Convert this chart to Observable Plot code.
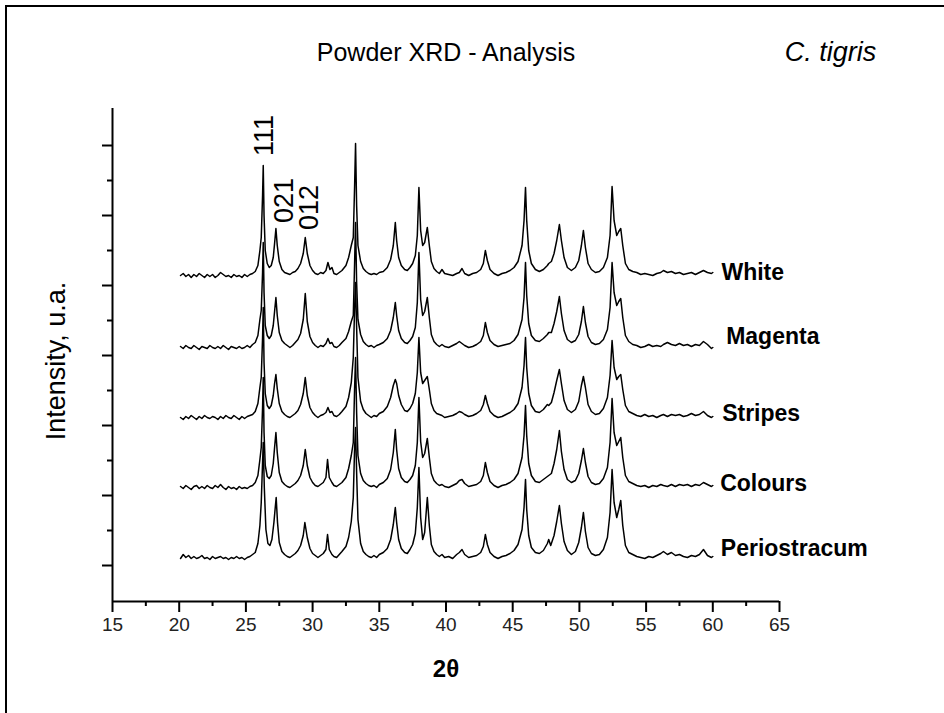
<!DOCTYPE html>
<html><head><meta charset="utf-8">
<script src="https://cdn.jsdelivr.net/npm/d3@7"></script>
<script src="https://cdn.jsdelivr.net/npm/@observablehq/plot@0.6"></script>
<style>
body{margin:0;background:#fff;}
#wrap{position:relative;width:944px;height:713px;overflow:hidden;background:#fff;}
#border{position:absolute;left:5px;top:5px;width:980px;height:760px;border:2px solid #000;box-sizing:border-box;pointer-events:none;}
#chart{position:absolute;left:0;top:0;}
</style></head><body>
<div id="wrap"><div id="chart"></div><div id="border"></div></div>
<script>
// ---- data (2θ, intensity above each pattern's own baseline, arbitrary units) ----
const seriesNames = ["White", "Magenta", "Stripes", "Colours", "Periostracum"];
const seriesOffsets = [290, 218, 148, 78, 8];
const seriesLabelX = [60.65, 61.0, 60.7, 60.55, 60.6];
const seriesLabelY = [293, 229, 152, 82, 17];

const white = [
20.1,0, 20.3,2, 20.5,-1, 20.7,1, 20.9,-2, 21.1,1, 21.3,-1, 21.5,2, 21.7,0, 21.9,-2, 22.1,1, 22.3,-1, 22.5,1, 22.7,-2, 22.9,0, 23.1,3, 23.3,1, 23.5,-1, 23.7,0, 23.9,-2, 24.1,1, 24.3,-1, 24.5,0, 24.7,-2, 24.9,1, 25.1,-1, 25.3,1, 25.5,2,
25.7,4, 25.9,10, 26.05,25, 26.15,38, 26.25,80, 26.3,110, 26.36,60, 26.45,25, 26.6,12, 26.75,8,
26.9,10, 27.05,18, 27.15,32, 27.25,47, 27.35,30, 27.5,14, 27.7,6, 27.9,3, 28.1,2, 28.3,1, 28.5,3, 28.7,4,
28.9,7, 29.1,12, 29.3,22, 29.45,38, 29.6,22, 29.8,10, 30.0,5, 30.2,2, 30.4,1, 30.6,3, 30.8,2, 31.0,5,
31.15,13, 31.3,6, 31.45,8, 31.6,2, 31.8,1, 32.0,3, 32.2,5,
32.5,10, 32.7,18, 32.9,30, 33.05,38, 33.15,90, 33.22,132, 33.3,70, 33.4,30, 33.6,14, 33.8,7, 34.0,4, 34.2,2, 34.4,1, 34.6,2, 34.8,1, 35.0,3, 35.3,4,
35.6,8, 35.85,16, 36.05,30, 36.2,53, 36.3,35, 36.45,18, 36.65,10, 36.9,6, 37.1,5, 37.3,8, 37.5,12, 37.7,20, 37.85,40,
37.97,88, 38.1,45, 38.25,30, 38.4,33, 38.6,48, 38.75,30, 38.9,14, 39.1,7, 39.3,4, 39.5,2, 39.7,6, 39.9,2, 40.2,1, 40.5,0, 40.8,2, 41.0,3, 41.2,7, 41.4,2, 41.7,0, 42.0,2, 42.3,3, 42.6,6, 42.8,12,
42.95,25, 43.1,15, 43.3,6, 43.6,2, 43.9,0, 44.2,2, 44.5,3, 44.8,5, 45.1,8, 45.4,14, 45.7,30, 45.85,55,
45.96,88, 46.05,55, 46.2,25, 46.4,12, 46.7,6, 47.0,4, 47.3,6, 47.6,10, 47.7,12, 47.9,14, 48.1,22, 48.3,35, 48.5,51, 48.65,35, 48.85,18, 49.1,8, 49.4,5, 49.7,8, 49.95,15, 50.15,30,
50.3,45, 50.45,28, 50.65,12, 50.9,6, 51.2,3, 51.5,4, 51.8,8, 52.1,18, 52.3,40,
52.45,89, 52.6,55, 52.8,40, 52.95,44, 53.1,47, 53.25,30, 53.45,12, 53.7,6, 54.0,4, 54.3,3, 54.6,1, 54.9,2, 55.2,1, 55.5,0, 55.8,2, 56.1,3, 56.3,5, 56.6,3, 56.9,4, 57.2,2, 57.5,3, 57.8,1, 58.1,2, 58.4,3, 58.7,1, 59.0,3, 59.3,5, 59.6,3, 59.9,2, 60.0,3
];
const magenta = [
20.1,1, 20.3,-1, 20.5,2, 20.7,0, 20.9,-1, 21.1,2, 21.3,0, 21.5,-2, 21.7,1, 21.9,0, 22.1,-1, 22.3,2, 22.5,0, 22.7,-1, 22.9,1, 23.1,-1, 23.3,2, 23.5,0, 23.7,-2, 23.9,1, 24.1,0, 24.3,-1, 24.5,1, 24.7,-1, 24.9,0, 25.1,2, 25.3,0, 25.5,3,
25.7,5, 25.9,12, 26.05,28, 26.15,37, 26.25,75, 26.3,105, 26.36,55, 26.45,22, 26.6,12, 26.75,9,
26.9,12, 27.05,22, 27.15,36, 27.25,50, 27.35,32, 27.5,15, 27.7,7, 27.9,4, 28.1,2, 28.3,0, 28.5,2, 28.7,5,
28.9,8, 29.1,14, 29.3,28, 29.45,54, 29.6,26, 29.8,11, 30.0,5, 30.2,2, 30.4,0, 30.6,2, 30.8,1, 31.0,4,
31.15,9, 31.3,4, 31.45,5, 31.6,1, 31.8,0, 32.0,2, 32.2,5,
32.5,9, 32.7,16, 32.9,26, 33.05,32, 33.15,85, 33.22,125, 33.3,65, 33.4,28, 33.6,13, 33.8,6, 34.0,3, 34.2,1, 34.4,2, 34.6,0, 34.8,2, 35.0,3, 35.3,5,
35.6,9, 35.85,17, 36.05,30, 36.2,45, 36.3,32, 36.45,17, 36.65,9, 36.9,5, 37.1,4, 37.3,7, 37.5,11, 37.7,20, 37.85,45,
37.97,95, 38.1,48, 38.25,32, 38.4,36, 38.6,50, 38.75,30, 38.9,13, 39.1,6, 39.3,3, 39.5,1, 39.7,3, 39.9,1, 40.2,0, 40.5,2, 40.8,4, 41.0,6, 41.2,4, 41.4,2, 41.7,0, 42.0,1, 42.3,3, 42.6,6, 42.8,12,
42.95,25, 43.1,15, 43.3,7, 43.6,3, 43.9,1, 44.2,2, 44.5,3, 44.8,4, 45.1,7, 45.4,13, 45.7,28, 45.85,50,
45.96,85, 46.05,52, 46.2,24, 46.4,12, 46.7,7, 47.0,6, 47.3,9, 47.6,13, 47.7,15, 47.9,15, 48.1,24, 48.3,36, 48.5,51, 48.65,34, 48.85,17, 49.1,8, 49.4,5, 49.7,7, 49.95,13, 50.15,26,
50.3,41, 50.45,25, 50.65,11, 50.9,5, 51.2,3, 51.5,4, 51.8,8, 52.1,18, 52.3,40,
52.45,85, 52.6,55, 52.8,42, 52.95,46, 53.1,49, 53.25,30, 53.45,12, 53.7,6, 54.0,3, 54.3,2, 54.6,0, 54.9,1, 55.2,3, 55.5,1, 55.8,2, 56.1,1, 56.3,3, 56.6,5, 56.9,3, 57.2,2, 57.5,4, 57.8,2, 58.1,3, 58.4,1, 58.7,3, 59.0,2, 59.3,6, 59.6,3, 59.9,-1, 60.0,0
];
const stripes = [
20.1,0, 20.3,-2, 20.5,1, 20.7,-1, 20.9,2, 21.1,0, 21.3,-2, 21.5,1, 21.7,-1, 21.9,2, 22.1,0, 22.3,-1, 22.5,1, 22.7,0, 22.9,-2, 23.1,1, 23.3,-1, 23.5,2, 23.7,0, 23.9,-1, 24.1,2, 24.3,0, 24.5,-2, 24.7,1, 24.9,-1, 25.1,1, 25.3,2, 25.5,3,
25.7,6, 25.9,14, 26.05,30, 26.15,40, 26.25,80, 26.3,110, 26.36,55, 26.45,24, 26.6,12, 26.75,9,
26.9,12, 27.05,22, 27.15,34, 27.25,43, 27.35,29, 27.5,14, 27.7,6, 27.9,3, 28.1,1, 28.3,0, 28.5,2, 28.7,4,
28.9,7, 29.1,13, 29.3,24, 29.45,40, 29.6,22, 29.8,10, 30.0,5, 30.2,2, 30.4,0, 30.6,2, 30.8,3, 31.0,5,
31.15,10, 31.3,5, 31.45,6, 31.6,2, 31.8,1, 32.0,3, 32.2,6,
32.5,11, 32.7,20, 32.9,35, 33.05,60, 33.15,110, 33.22,135, 33.3,90, 33.4,40, 33.6,16, 33.8,8, 34.0,4, 34.2,2, 34.4,0, 34.6,2, 34.8,1, 35.0,4, 35.3,6,
35.6,11, 35.85,20, 36.05,32, 36.2,38, 36.3,34, 36.45,22, 36.65,13, 36.9,7, 37.1,6, 37.3,9, 37.5,14, 37.7,24, 37.85,45,
37.97,80, 38.1,45, 38.25,34, 38.4,37, 38.6,41, 38.75,28, 38.9,14, 39.1,7, 39.3,4, 39.5,3, 39.7,2, 39.9,0, 40.2,1, 40.5,2, 40.8,4, 41.0,6, 41.2,5, 41.4,3, 41.7,1, 42.0,2, 42.3,4, 42.6,7, 42.8,13,
42.95,22, 43.1,14, 43.3,6, 43.6,2, 43.9,0, 44.2,1, 44.5,3, 44.8,5, 45.1,8, 45.4,14, 45.7,30, 45.85,52,
45.96,80, 46.05,50, 46.2,24, 46.4,12, 46.7,6, 47.0,5, 47.3,8, 47.6,13, 47.7,12, 47.9,15, 48.1,25, 48.3,37, 48.5,48, 48.65,34, 48.85,17, 49.1,8, 49.4,5, 49.7,8, 49.95,16, 50.15,32,
50.3,41, 50.45,30, 50.65,13, 50.9,6, 51.2,3, 51.5,4, 51.8,9, 52.1,20, 52.3,42,
52.45,77, 52.6,50, 52.8,38, 52.95,41, 53.1,43, 53.25,28, 53.45,12, 53.7,6, 54.0,4, 54.3,2, 54.6,1, 54.9,3, 55.2,1, 55.5,2, 55.8,0, 56.1,2, 56.3,3, 56.6,1, 56.9,3, 57.2,2, 57.5,3, 57.8,1, 58.1,2, 58.4,4, 58.7,2, 59.0,3, 59.3,6, 59.6,2, 59.9,0, 60.0,1
];
const colours = [
20.1,1, 20.3,-1, 20.5,2, 20.7,0, 20.9,-2, 21.1,1, 21.3,2, 21.5,-1, 21.7,1, 21.9,-1, 22.1,2, 22.3,0, 22.5,-1, 22.7,2, 22.9,0, 23.1,3, 23.3,0, 23.5,-2, 23.7,1, 23.9,-1, 24.1,0, 24.3,-2, 24.5,1, 24.7,-1, 24.9,0, 25.1,-1, 25.3,1, 25.5,2,
25.7,5, 25.9,12, 26.05,28, 26.15,40, 26.25,80, 26.3,110, 26.36,55, 26.45,22, 26.6,11, 26.75,9,
26.9,12, 27.05,24, 27.15,40, 27.25,55, 27.35,35, 27.5,15, 27.7,6, 27.9,3, 28.1,1, 28.3,0, 28.5,2, 28.7,4,
28.9,7, 29.1,12, 29.3,22, 29.45,38, 29.6,22, 29.8,10, 30.0,5, 30.2,2, 30.4,1, 30.6,3, 30.8,5, 31.0,10,
31.12,28, 31.25,10, 31.45,5, 31.6,2, 31.8,1, 32.0,3, 32.2,5,
32.5,10, 32.7,19, 32.9,32, 33.05,45, 33.15,100, 33.22,130, 33.3,75, 33.4,32, 33.6,14, 33.8,7, 34.0,4, 34.2,2, 34.4,1, 34.6,2, 34.8,0, 35.0,3, 35.3,5,
35.6,9, 35.85,18, 36.05,35, 36.2,58, 36.3,38, 36.45,19, 36.65,10, 36.9,6, 37.1,5, 37.3,8, 37.5,12, 37.7,22, 37.85,45,
37.97,90, 38.1,46, 38.25,30, 38.4,34, 38.6,49, 38.75,30, 38.9,14, 39.1,7, 39.3,4, 39.5,2, 39.7,3, 39.9,1, 40.2,0, 40.5,2, 40.8,4, 41.0,7, 41.2,8, 41.4,4, 41.7,1, 42.0,2, 42.3,3, 42.6,6, 42.8,12,
42.95,25, 43.1,15, 43.3,6, 43.6,2, 43.9,0, 44.2,2, 44.5,3, 44.8,5, 45.1,8, 45.4,14, 45.7,30, 45.85,52,
45.96,82, 46.05,52, 46.2,24, 46.4,12, 46.7,6, 47.0,5, 47.3,8, 47.6,11, 47.7,12, 47.9,14, 48.1,24, 48.3,38, 48.5,57, 48.65,36, 48.85,18, 49.1,8, 49.4,5, 49.7,7, 49.95,14, 50.15,27,
50.3,39, 50.45,25, 50.65,11, 50.9,5, 51.2,3, 51.5,4, 51.8,9, 52.1,20, 52.3,45,
52.45,89, 52.6,55, 52.8,42, 52.95,46, 53.1,50, 53.25,30, 53.45,12, 53.7,6, 54.0,4, 54.3,2, 54.6,1, 54.9,2, 55.2,0, 55.5,2, 55.8,1, 56.1,3, 56.3,2, 56.6,1, 56.9,3, 57.2,1, 57.5,3, 57.8,2, 58.1,3, 58.4,1, 58.7,3, 59.0,2, 59.3,5, 59.6,3, 59.9,1, 60.0,2
];
const periostracum = [
20.1,-1, 20.3,3, 20.5,0, 20.7,2, 20.9,-1, 21.1,1, 21.3,-1, 21.5,0, 21.7,2, 21.9,-1, 22.1,0, 22.3,-2, 22.5,1, 22.7,-1, 22.9,0, 23.1,1, 23.3,-1, 23.5,0, 23.7,-2, 23.9,0, 24.1,-1, 24.3,1, 24.5,-1, 24.7,0, 24.9,-2, 25.1,0, 25.3,1, 25.5,3,
25.7,5, 25.9,14, 26.05,32, 26.15,55, 26.25,95, 26.3,115, 26.38,70, 26.5,28, 26.65,14, 26.8,12,
26.95,18, 27.1,35, 27.2,50, 27.27,60, 27.37,35, 27.5,15, 27.7,6, 27.9,3, 28.1,1, 28.3,0, 28.5,2, 28.7,4,
28.9,7, 29.1,12, 29.3,22, 29.42,35, 29.6,20, 29.8,9, 30.0,4, 30.2,2, 30.4,0, 30.6,2, 30.8,4, 31.0,8,
31.12,23, 31.25,8, 31.45,3, 31.6,1, 31.8,0, 32.0,3, 32.2,6,
32.5,11, 32.7,20, 32.9,36, 33.05,60, 33.15,110, 33.22,130, 33.3,85, 33.4,38, 33.6,14, 33.8,6, 34.0,3, 34.2,1, 34.4,0, 34.6,2, 34.8,0, 35.0,3, 35.3,5,
35.6,9, 35.85,18, 36.05,33, 36.2,50, 36.3,35, 36.45,18, 36.65,9, 36.9,5, 37.1,4, 37.3,8, 37.5,13, 37.7,24, 37.85,50,
37.97,90, 38.1,40, 38.25,18, 38.4,25, 38.6,60, 38.75,32, 38.9,13, 39.1,6, 39.3,3, 39.5,1, 39.7,3, 39.9,0, 40.2,1, 40.5,-1, 40.8,3, 41.0,5, 41.2,8, 41.4,3, 41.7,0, 42.0,1, 42.3,2, 42.6,5, 42.8,11,
42.95,23, 43.1,13, 43.3,5, 43.6,1, 43.9,-1, 44.2,1, 44.5,2, 44.8,4, 45.1,7, 45.4,13, 45.7,28, 45.85,50,
45.96,78, 46.05,48, 46.2,22, 46.4,10, 46.7,5, 47.0,4, 47.3,7, 47.6,14, 47.7,18, 47.85,12, 48.1,22, 48.3,36, 48.5,52, 48.65,34, 48.85,16, 49.1,7, 49.4,3, 49.7,6, 49.95,15, 50.15,30,
50.3,45, 50.45,26, 50.65,10, 50.9,4, 51.2,2, 51.5,3, 51.8,8, 52.1,20, 52.3,45,
52.45,88, 52.6,55, 52.8,40, 52.95,48, 53.1,57, 53.25,32, 53.45,12, 53.7,5, 54.0,3, 54.3,1, 54.6,0, 54.9,-1, 55.2,1, 55.5,0, 55.8,2, 56.1,4, 56.3,6, 56.6,3, 56.9,5, 57.2,2, 57.5,3, 57.8,1, 58.1,0, 58.4,2, 58.7,1, 59.0,3, 59.3,8, 59.6,2, 59.9,0, 60.0,1
];

const peakLabels = ["111", "021", "012"];
const peakLabelX = [26.4, 27.9, 29.78];
const peakLabelY = [430, 365, 358];

const xDomain = [15, 65];
const yDomain = [-36, 457];
const xTicks = [15, 20, 25, 30, 35, 40, 45, 50, 55, 60, 65];
const xMinorTicks = [17.5, 22.5, 27.5, 32.5, 37.5, 42.5, 47.5, 52.5, 57.5, 62.5];
const yTicks = [0, 70, 140, 210, 280, 350, 420];
const yMinorTicks = [35, 105, 175, 245, 315, 385];

const titleText = "Powder XRD - Analysis";
const speciesText = "C. tigris";
const yLabelText = "Intensity, u.a.";
const xLabelText = "2θ";

// ---- build table ----
const seriesData = [white, magenta, stripes, colours, periostracum];
const rows = [];
seriesData.forEach((arr, s) => {
  for (let i = 0; i < arr.length; i += 2) {
    rows.push({series: seriesNames[s], theta: arr[i], intensity: arr[i + 1] + seriesOffsets[s]});
  }
});
const seriesLabelRows = seriesNames.map((n, i) => ({name: n, x: seriesLabelX[i], y: seriesLabelY[i]}));
const peakRows = peakLabels.map((t, i) => ({t, x: peakLabelX[i], y: peakLabelY[i]}));

const font = "'Liberation Sans', Arial, Helvetica, sans-serif";

const chart = Plot.plot({
  width: 944,
  height: 713,
  marginLeft: 112,
  marginRight: 165,
  marginTop: 108,
  marginBottom: 112,
  style: {fontFamily: font, fontSize: "18px", background: "transparent", overflow: "visible"},
  x: {domain: xDomain},
  y: {domain: yDomain},
  marks: [
    Plot.line(rows, {x: "theta", y: "intensity", z: "series", stroke: "#000", strokeWidth: 1.5, strokeLinejoin: "round"}),
    Plot.ruleY([yDomain[0]], {stroke: "#000", strokeWidth: 2}),
    Plot.ruleX([xDomain[0]], {stroke: "#000", strokeWidth: 2}),
    Plot.axisX({ticks: xTicks, tickSize: 11, tickPadding: 5, strokeWidth: 2, fontSize: 19, fill: "#222", label: null}),
    Plot.axisX({ticks: xMinorTicks, tickSize: 5, strokeWidth: 2, tickFormat: () => "", label: null}),
    Plot.axisY({ticks: yTicks, tickSize: 10, strokeWidth: 2, tickFormat: () => "", label: null}),
    Plot.axisY({ticks: yMinorTicks, tickSize: 5, strokeWidth: 2, tickFormat: () => "", label: null}),
    Plot.text(seriesLabelRows, {x: "x", y: "y", text: "name", textAnchor: "start", fontSize: 23, fontWeight: "bold", fill: "#000"}),
    Plot.text(peakRows, {x: "x", y: "y", text: "t", rotate: -90, fontSize: 27, fill: "#000"}),
    Plot.text([titleText], {frameAnchor: "top", dy: -56, lineAnchor: "middle", textAnchor: "middle", fontSize: 25, fill: "#000"}),
    Plot.text([speciesText], {frameAnchor: "top-right", dx: 51, dy: -56, lineAnchor: "middle", textAnchor: "middle", fontSize: 27, fontStyle: "italic", fill: "#000"}),
    Plot.text([yLabelText], {frameAnchor: "left", dx: -56, dy: 6, rotate: -90, lineAnchor: "middle", textAnchor: "middle", fontSize: 27, fill: "#000"}),
    Plot.text([xLabelText], {frameAnchor: "bottom", dy: 68, lineAnchor: "middle", textAnchor: "middle", fontSize: 24, fontWeight: "bold", fill: "#000"})
  ]
});
document.getElementById("chart").appendChild(chart);
</script>
</body></html>
